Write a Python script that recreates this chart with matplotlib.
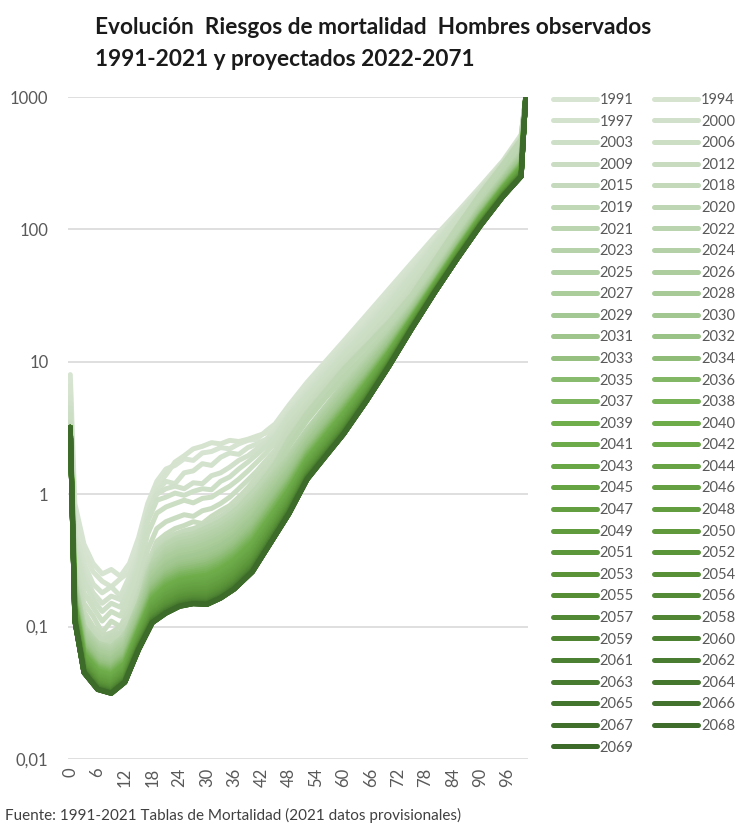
import matplotlib
matplotlib.use("Agg")
import matplotlib.pyplot as plt
from matplotlib.colors import LinearSegmentedColormap

# riesgos de mortalidad por mil
# observados: edades con mas detalle
ages_obs = [0, 1, 3, 5, 7, 9, 11, 13, 15, 17, 19, 21, 23, 25, 27, 29, 31, 33, 35, 37,
            39, 41, 43, 45, 48, 52, 56, 60, 65, 70, 75, 80, 85, 90, 95, 99, 100]
obs_years = [1991, 1994, 1997, 2000, 2003, 2006, 2009, 2012, 2015, 2018, 2019, 2020, 2021]
q1991 = [8.0, 0.85, 0.42, 0.30, 0.25, 0.27, 0.24, 0.30, 0.47, 0.85, 1.25, 1.55, 1.65, 1.85, 1.80, 2.05, 2.10, 2.25, 2.20, 2.40,
         2.55, 2.60, 3.00, 3.40, 4.70, 7.0, 10.0, 14.3, 22.5, 35.5, 56, 88, 135, 210, 330, 520, 1000]
q1994 = [6.6, 0.62, 0.36, 0.26, 0.22, 0.20, 0.23, 0.26, 0.40, 0.80, 1.15, 1.40, 1.75, 1.95, 2.20, 2.30, 2.45, 2.40, 2.55, 2.50,
         2.60, 2.75, 2.90, 3.30, 4.50, 6.6, 9.5, 13.6, 21.0, 33.0, 53, 85, 132, 205, 325, 510, 1000]
q1997 = [5.4, 0.50, 0.30, 0.21, 0.18, 0.20, 0.17, 0.24, 0.36, 0.72, 1.05, 1.25, 1.20, 1.45, 1.50, 1.70, 1.65, 1.90, 2.05, 2.00,
         2.25, 2.40, 2.60, 3.00, 4.20, 6.2, 9.0, 13.0, 19.5, 31.0, 50, 80, 128, 200, 320, 500, 1000]
q2000 = [4.9, 0.45, 0.25, 0.18, 0.15, 0.17, 0.16, 0.21, 0.33, 0.70, 1.00, 1.10, 1.15, 1.10, 1.22, 1.20, 1.38, 1.45, 1.60, 1.80,
         1.95, 2.20, 2.45, 2.80, 4.00, 5.9, 8.5, 12.3, 18.5, 29.0, 47, 78, 125, 195, 315, 490, 1000]
q2003 = [4.5, 0.40, 0.22, 0.16, 0.13, 0.15, 0.14, 0.19, 0.30, 0.62, 0.90, 0.95, 1.02, 0.98, 1.05, 1.10, 1.08, 1.25, 1.35, 1.55,
         1.75, 2.00, 2.30, 2.70, 3.90, 5.6, 8.0, 11.5, 17.5, 27.5, 45, 75, 124, 197, 320, 495, 1000]
q2006 = [4.0, 0.35, 0.18, 0.14, 0.11, 0.13, 0.12, 0.17, 0.26, 0.50, 0.72, 0.80, 0.85, 0.90, 0.86, 0.93, 0.95, 1.05, 1.15, 1.30,
         1.50, 1.75, 2.05, 2.45, 3.60, 5.2, 7.5, 10.8, 16.0, 25.0, 41, 68, 115, 185, 305, 480, 1000]
q2009 = [3.5, 0.30, 0.15, 0.12, 0.09, 0.11, 0.10, 0.14, 0.21, 0.38, 0.55, 0.62, 0.66, 0.70, 0.68, 0.75, 0.78, 0.85, 0.95, 1.10,
         1.28, 1.50, 1.80, 2.15, 3.30, 4.8, 6.9, 9.9, 14.5, 22.5, 37, 62, 105, 175, 290, 460, 1000]
q2012 = [3.2, 0.27, 0.13, 0.10, 0.085, 0.09, 0.10, 0.12, 0.18, 0.30, 0.44, 0.50, 0.55, 0.58, 0.62, 0.60, 0.68, 0.75, 0.82, 0.95,
         1.12, 1.35, 1.60, 1.95, 3.00, 4.5, 6.5, 9.2, 13.5, 20.5, 34, 58, 100, 170, 285, 450, 1000]
q2015 = [3.0, 0.25, 0.12, 0.09, 0.08, 0.085, 0.09, 0.11, 0.17, 0.28, 0.40, 0.46, 0.50, 0.53, 0.55, 0.58, 0.62, 0.68, 0.75, 0.85,
         1.00, 1.20, 1.45, 1.75, 2.70, 4.2, 6.1, 8.8, 13.0, 19.5, 32, 57, 98, 172, 290, 455, 1000]
q2018 = [2.9, 0.23, 0.11, 0.085, 0.075, 0.08, 0.085, 0.10, 0.16, 0.27, 0.38, 0.44, 0.48, 0.50, 0.51, 0.54, 0.58, 0.62, 0.70, 0.78,
         0.92, 1.10, 1.35, 1.60, 2.50, 3.9, 5.7, 8.3, 12.4, 18.5, 30, 54, 95, 168, 285, 450, 1000]
q2019 = [2.8, 0.22, 0.10, 0.08, 0.07, 0.075, 0.08, 0.10, 0.15, 0.26, 0.37, 0.43, 0.46, 0.48, 0.50, 0.52, 0.56, 0.60, 0.67, 0.75,
         0.88, 1.05, 1.28, 1.55, 2.40, 3.8, 5.5, 8.0, 12.0, 18.0, 29, 51, 91, 160, 275, 435, 1000]
q2020 = [2.6, 0.20, 0.10, 0.08, 0.07, 0.07, 0.08, 0.095, 0.14, 0.25, 0.36, 0.42, 0.46, 0.49, 0.50, 0.54, 0.58, 0.63, 0.70, 0.80,
         0.95, 1.12, 1.38, 1.70, 2.60, 4.1, 6.0, 8.8, 13.2, 20.0, 32, 58, 105, 185, 310, 480, 1000]
q2021 = [2.8, 0.21, 0.10, 0.08, 0.07, 0.07, 0.08, 0.095, 0.14, 0.25, 0.35, 0.41, 0.45, 0.46, 0.48, 0.51, 0.54, 0.58, 0.65, 0.72,
         0.85, 1.00, 1.22, 1.50, 2.30, 3.6, 5.3, 7.6, 11.4, 17.5, 28.5, 50, 90, 158, 270, 420, 1000]
observed = [q1991, q1994, q1997, q2000, q2003, q2006, q2009, q2012, q2015, q2018,
            q2019, q2020, q2021]

# proyectados 2022-2069: una lista por edad, un valor por anio
ages = [0, 1, 3, 6, 9, 12, 15, 18, 21, 24, 27, 30, 33, 36, 40, 44, 48, 52, 56, 60,
        65, 70, 75, 80, 85, 90, 95, 99, 100]
proj_years = list(range(2022, 2070))
p00 = [3.2, 3.2, 3.2, 3.2, 3.2, 3.2, 3.2, 3.2, 3.2, 3.2, 3.2, 3.2, 3.2, 3.2, 3.2, 3.2,
       3.2, 3.2, 3.2, 3.2, 3.2, 3.2, 3.2, 3.2, 3.2, 3.2, 3.2, 3.2, 3.2, 3.2, 3.2, 3.2,
       3.2, 3.2, 3.2, 3.2, 3.2, 3.2, 3.2, 3.2, 3.2, 3.2, 3.2, 3.2, 3.2, 3.2, 3.2, 3.2]
p01 = [.22, .214, .208, .202, .197, .191, .187, .182, .178, .173, .169, .165, .162, .158, .155, .152,
       .149, .146, .143, .141, .139, .136, .134, .132, .130, .128, .127, .125, .123, .122, .121, .119,
       .118, .117, .116, .115, .114, .114, .113, .112, .112, .112, .111, .111, .111, .110, .110, .110]
p03 = [.100, .097, .094, .091, .088, .085, .083, .080, .078, .076, .074, .072, .070, .068, .067, .065,
       .063, .062, .061, .060, .058, .057, .056, .055, .054, .053, .053, .052, .051, .050, .050, .049,
       .049, .048, .048, .047, .047, .046, .046, .046, .046, .045, .045, .045, .045, .045, .045, .045]
p06 = [.075, .0725, .070, .068, .066, .064, .062, .060, .058, .057, .055, .054, .052, .051, .050, .049,
       .048, .0465, .0455, .0446, .0437, .0428, .0421, .0413, .0406, .040, .0394, .0388, .0382, .0377, .0372, .0368,
       .0364, .036, .0356, .0353, .035, .0347, .0345, .0343, .0341, .0339, .0338, .0337, .0336, .0335, .0335, .0335]
p09 = [.070, .0677, .0655, .0634, .0614, .0595, .0578, .0561, .0545, .053, .0515, .0502, .0489, .0477, .0466, .0454,
       .0444, .0434, .0425, .0417, .0408, .040, .0393, .0386, .0379, .0373, .0368, .0362, .0356, .0352, .0347, .0344,
       .034, .0336, .0333, .033, .0327, .0324, .0322, .032, .0319, .0316, .0316, .0314, .0314, .0313, .0313, .0313]
p12 = [.085, .0822, .0795, .0769, .0745, .0723, .0701, .0681, .0661, .0643, .0626, .0609, .0594, .0579, .0565, .0552,
       .0539, .0527, .0516, .0506, .0496, .0485, .0477, .0468, .046, .0453, .0446, .0439, .0433, .0428, .0422, .0417,
       .0412, .0408, .0404, .040, .0397, .0394, .0391, .0388, .0387, .0384, .0383, .0382, .0381, .038, .038, .038]
p15 = [.15, .145, .140, .136, .132, .128, .124, .120, .117, .114, .110, .108, .105, .102, .100, .097,
       .095, .093, .091, .089, .087, .086, .084, .083, .081, .080, .079, .078, .076, .075, .074, .074,
       .073, .072, .071, .071, .070, .069, .069, .069, .068, .068, .068, .067, .067, .067, .067, .067]
p18 = [.30, .287, .275, .264, .254, .244, .234, .225, .217, .210, .203, .196, .189, .183, .177, .172,
       .167, .162, .158, .154, .150, .146, .143, .140, .136, .134, .131, .128, .126, .124, .122, .120,
       .118, .117, .115, .114, .113, .112, .111, .110, .109, .108, .108, .107, .107, .107, .107, .107]
p21 = [.40, .381, .364, .347, .332, .317, .304, .291, .280, .268, .258, .249, .240, .231, .223, .216,
       .209, .202, .196, .190, .185, .180, .175, .171, .166, .163, .159, .156, .152, .150, .147, .144,
       .142, .140, .138, .136, .135, .133, .132, .131, .130, .129, .128, .128, .127, .127, .126, .126]
p24 = [.45, .429, .409, .390, .373, .357, .342, .328, .315, .302, .291, .280, .270, .260, .251, .243,
       .235, .227, .221, .214, .208, .203, .197, .192, .187, .183, .179, .175, .171, .169, .166, .162,
       .160, .158, .155, .153, .152, .150, .149, .147, .146, .145, .144, .144, .143, .143, .142, .142]
p27 = [.47, .448, .427, .407, .390, .373, .357, .342, .329, .315, .304, .292, .282, .271, .262, .254,
       .245, .237, .230, .224, .217, .212, .206, .201, .196, .191, .187, .183, .179, .176, .173, .170,
       .167, .165, .162, .160, .158, .157, .155, .154, .152, .151, .150, .150, .149, .149, .149, .149]
p30 = [.52, .493, .468, .445, .423, .403, .384, .367, .350, .335, .321, .308, .296, .284, .274, .264,
       .254, .245, .237, .230, .223, .216, .210, .204, .198, .193, .189, .184, .180, .177, .173, .170,
       .167, .164, .162, .159, .157, .155, .153, .152, .151, .150, .149, .148, .147, .147, .147, .147]
p33 = [.58, .550, .522, .496, .472, .450, .429, .409, .391, .374, .358, .343, .330, .317, .305, .294,
       .284, .274, .264, .256, .248, .241, .234, .227, .221, .216, .211, .205, .201, .197, .193, .189,
       .186, .183, .180, .177, .175, .173, .171, .169, .168, .167, .166, .165, .164, .164, .164, .164]
p36 = [.68, .645, .612, .581, .553, .527, .503, .479, .458, .439, .420, .403, .387, .372, .358, .345,
       .333, .321, .310, .301, .291, .282, .274, .267, .259, .253, .247, .241, .235, .231, .226, .222,
       .218, .214, .211, .208, .205, .203, .201, .199, .197, .196, .194, .193, .192, .192, .192, .192]
p40 = [.92, .872, .828, .787, .748, .713, .680, .649, .620, .593, .569, .545, .523, .503, .484, .466,
       .450, .434, .420, .407, .394, .382, .371, .361, .351, .342, .334, .326, .318, .313, .306, .300,
       .295, .290, .286, .282, .278, .274, .271, .269, .267, .265, .263, .261, .260, .260, .259, .259]
p44 = [1.35, 1.29, 1.23, 1.17, 1.12, 1.07, 1.03, .98, .94, .91, .87, .84, .81, .78, .75, .73,
       .70, .68, .66, .64, .62, .61, .59, .58, .56, .55, .54, .53, .51, .51, .50, .49,
       .48, .47, .47, .46, .45, .45, .45, .44, .44, .43, .43, .43, .43, .43, .43, .43]
p48 = [2.0, 1.91, 1.83, 1.76, 1.69, 1.62, 1.56, 1.50, 1.45, 1.40, 1.35, 1.30, 1.26, 1.22, 1.18, 1.15,
       1.11, 1.08, 1.05, 1.03, 1.00, .97, .95, .93, .91, .89, .87, .86, .84, .83, .81, .80,
       .79, .78, .77, .76, .75, .74, .74, .73, .73, .72, .72, .71, .71, .71, .71, .71]
p52 = [3.10, 2.99, 2.88, 2.78, 2.69, 2.60, 2.51, 2.43, 2.36, 2.29, 2.22, 2.16, 2.10, 2.04, 1.99, 1.94,
       1.89, 1.84, 1.80, 1.76, 1.72, 1.69, 1.66, 1.62, 1.59, 1.57, 1.54, 1.51, 1.49, 1.47, 1.45, 1.43,
       1.41, 1.40, 1.38, 1.37, 1.35, 1.35, 1.34, 1.33, 1.32, 1.31, 1.31, 1.30, 1.30, 1.30, 1.29, 1.29]
p56 = [4.60, 4.43, 4.28, 4.13, 3.99, 3.86, 3.73, 3.61, 3.51, 3.40, 3.30, 3.21, 3.11, 3.03, 2.95, 2.88,
       2.81, 2.74, 2.68, 2.62, 2.56, 2.51, 2.46, 2.41, 2.36, 2.32, 2.29, 2.24, 2.21, 2.18, 2.15, 2.12,
       2.10, 2.07, 2.05, 2.03, 2.01, 2.00, 1.98, 1.97, 1.96, 1.95, 1.94, 1.93, 1.92, 1.92, 1.92, 1.92]
p60 = [6.80, 6.56, 6.32, 6.10, 5.90, 5.71, 5.51, 5.34, 5.18, 5.03, 4.88, 4.74, 4.60, 4.48, 4.37, 4.26,
       4.15, 4.05, 3.96, 3.87, 3.78, 3.71, 3.63, 3.56, 3.50, 3.43, 3.38, 3.32, 3.27, 3.22, 3.18, 3.13,
       3.10, 3.07, 3.03, 3.00, 2.97, 2.95, 2.93, 2.91, 2.89, 2.88, 2.86, 2.85, 2.84, 2.84, 2.84, 2.84]
p65 = [10.5, 10.2, 9.88, 9.59, 9.31, 9.05, 8.81, 8.57, 8.35, 8.14, 7.94, 7.75, 7.56, 7.39, 7.22, 7.08,
       6.92, 6.78, 6.66, 6.53, 6.41, 6.30, 6.20, 6.09, 6.00, 5.91, 5.83, 5.74, 5.67, 5.60, 5.53, 5.47,
       5.42, 5.37, 5.32, 5.27, 5.23, 5.20, 5.17, 5.13, 5.10, 5.08, 5.07, 5.05, 5.04, 5.03, 5.03, 5.03]
p70 = [16.5, 16.1, 15.7, 15.4, 15.0, 14.7, 14.4, 14.1, 13.8, 13.5, 13.3, 13.0, 12.8, 12.5, 12.3, 12.1,
       11.9, 11.7, 11.6, 11.4, 11.2, 11.1, 10.9, 10.8, 10.6, 10.5, 10.4, 10.3, 10.2, 10.1, 10.0, 9.92,
       9.83, 9.77, 9.70, 9.64, 9.59, 9.52, 9.47, 9.44, 9.39, 9.37, 9.34, 9.32, 9.31, 9.29, 9.27, 9.27]
p75 = [27.0, 26.5, 26.1, 25.7, 25.2, 24.8, 24.5, 24.1, 23.7, 23.4, 23.1, 22.8, 22.5, 22.2, 21.9, 21.6,
       21.4, 21.1, 20.9, 20.7, 20.5, 20.3, 20.1, 19.9, 19.7, 19.5, 19.4, 19.2, 19.1, 19.0, 18.8, 18.7,
       18.6, 18.5, 18.4, 18.3, 18.3, 18.2, 18.1, 18.1, 18.0, 18.0, 17.9, 17.9, 17.9, 17.8, 17.8, 17.8]
p80 = [47.0, 46.3, 45.7, 45.0, 44.4, 43.9, 43.3, 42.7, 42.2, 41.7, 41.2, 40.7, 40.3, 39.9, 39.4, 39.1,
       38.7, 38.3, 37.9, 37.6, 37.3, 37.0, 36.7, 36.4, 36.1, 35.9, 35.7, 35.4, 35.2, 35.0, 34.8, 34.6,
       34.5, 34.3, 34.2, 34.0, 33.9, 33.8, 33.7, 33.6, 33.5, 33.5, 33.4, 33.4, 33.3, 33.3, 33.3, 33.3]
p85 = [85.0, 83.8, 82.6, 81.4, 80.3, 79.3, 78.3, 77.3, 76.3, 75.5, 74.5, 73.7, 72.9, 72.1, 71.3, 70.6,
       70.0, 69.3, 68.6, 68.0, 67.4, 66.9, 66.4, 65.9, 65.4, 64.9, 64.5, 64.1, 63.7, 63.3, 63.0, 62.6,
       62.3, 62.1, 61.8, 61.5, 61.3, 61.1, 60.9, 60.8, 60.6, 60.5, 60.4, 60.4, 60.3, 60.2, 60.2, 60.2]
p90 = [150, 148, 146, 144, 142, 140, 138, 136, 135, 133, 132, 130, 129, 127, 126, 125,
       123, 122, 121, 120, 119, 118, 117, 116, 115, 114, 114, 113, 112, 112, 111, 111,
       110, 110, 109, 109, 108, 108, 108, 107, 107, 107, 107, 107, 106, 106, 106, 106]
p95 = [250, 247, 243, 240, 236, 233, 230, 227, 225, 222, 219, 217, 215, 212, 210, 208,
       206, 204, 202, 200, 198, 197, 195, 194, 192, 191, 190, 189, 187, 186, 185, 184,
       183, 183, 182, 181, 180, 180, 179, 179, 178, 178, 178, 178, 177, 177, 177, 177]
p99 = [380, 374, 367, 361, 355, 350, 344, 339, 334, 329, 325, 320, 316, 312, 308, 304,
       301, 297, 294, 291, 288, 285, 282, 280, 277, 275, 273, 271, 269, 267, 265, 263,
       262, 260, 259, 258, 257, 256, 255, 254, 253, 253, 252, 252, 252, 251, 251, 251]
p100 = [1000, 1000, 1000, 1000, 1000, 1000, 1000, 1000, 1000, 1000, 1000, 1000, 1000, 1000, 1000, 1000,
        1000, 1000, 1000, 1000, 1000, 1000, 1000, 1000, 1000, 1000, 1000, 1000, 1000, 1000, 1000, 1000,
        1000, 1000, 1000, 1000, 1000, 1000, 1000, 1000, 1000, 1000, 1000, 1000, 1000, 1000, 1000, 1000]
projected = [p00, p01, p03, p06, p09, p12, p15, p18, p21, p24, p27, p30, p33, p36, p40, p44,
             p48, p52, p56, p60, p65, p70, p75, p80, p85, p90, p95, p99, p100]

yticks = [0.01, 0.1, 1, 10, 100, 1000]
ytick_labels = ["0,01", "0,1", "1", "10", "100", "1000"]
xticks = [0, 6, 12, 18, 24, 30, 36, 42, 48, 54, 60, 66, 72, 78, 84, 90, 96]

assert all(len(r) == len(ages_obs) for r in observed)
assert all(len(c) == len(proj_years) for c in projected)

plt.rcParams['font.family'] = ['Lato', 'DejaVu Sans']

all_years = obs_years + proj_years
cmap = LinearSegmentedColormap.from_list("verdes", [
    (0.0, "#d7e4d2"), (0.2, "#bcd5b1"), (0.38, "#9cc489"),
    (0.5, "#70ae4c"), (0.72, "#5b9539"), (1.0, "#3d6b2a")])
n = len(all_years)
colors = [cmap(i / (n - 1)) for i in range(n)]

fig = plt.figure(figsize=(7.42, 8.25), dpi=100)
ax = fig.add_axes([68 / 742, 1 - 759 / 825, 460 / 742, 662 / 825])

lines = []
for i, row in enumerate(observed):
    ln, = ax.plot(ages_obs, row, color=colors[i], lw=3.6,
                  solid_capstyle="round", solid_joinstyle="round")
    lines.append(ln)
for j in range(len(proj_years)):
    row = [col[j] for col in projected]
    ln, = ax.plot(ages, row, color=colors[len(observed) + j], lw=3.6,
                  solid_capstyle="round", solid_joinstyle="round")
    lines.append(ln)

ax.set_yscale("log")
ax.set_ylim(0.01, 1000)
ax.set_xlim(-0.5, 100.5)
ax.set_yticks(yticks)
ax.set_yticklabels(ytick_labels)
ax.minorticks_off()
ax.set_xticks(xticks)
ax.set_xticklabels([str(t) for t in xticks], rotation=90)
ax.tick_params(axis="y", length=0, pad=14, labelsize=12, labelcolor="#595959")
ax.tick_params(axis="x", length=0, pad=6, labelsize=12, labelcolor="#595959")
ax.grid(axis="y", color="#d9d9d9", lw=1.2)
ax.set_axisbelow(True)
for s in ax.spines.values():
    s.set_visible(False)

# leyenda en dos columnas, ordenada por filas
labels = [str(y) for y in all_years]
order = list(range(0, n, 2)) + list(range(1, n, 2))
leg = ax.legend([lines[k] for k in order], [labels[k] for k in order], ncol=2,
                loc="upper left", bbox_to_anchor=(553 / 742, 1 - 93 / 825),
                bbox_transform=fig.transFigure, frameon=False, fontsize=10.5,
                handlelength=3.0, handletextpad=0.2, columnspacing=1.4,
                labelspacing=0.52, borderpad=0, borderaxespad=0)
for t in leg.get_texts():
    t.set_color("#595959")

fig.text(95 / 742, 1 - 28 / 825, "Evolución  Riesgos de mortalidad  Hombres observados",
         fontsize=16.3, fontweight="bold", va="center", color="#1a1a1a")
fig.text(95 / 742, 1 - 60 / 825, "1991-2021 y proyectados 2022-2071",
         fontsize=16.3, fontweight="bold", va="center", color="#1a1a1a")
fig.text(5 / 742, 1 - 815 / 825,
         "Fuente: 1991-2021 Tablas de Mortalidad (2021 datos provisionales)",
         fontsize=11, va="center", color="#404040")

fig.savefig("out.png", dpi=100)
